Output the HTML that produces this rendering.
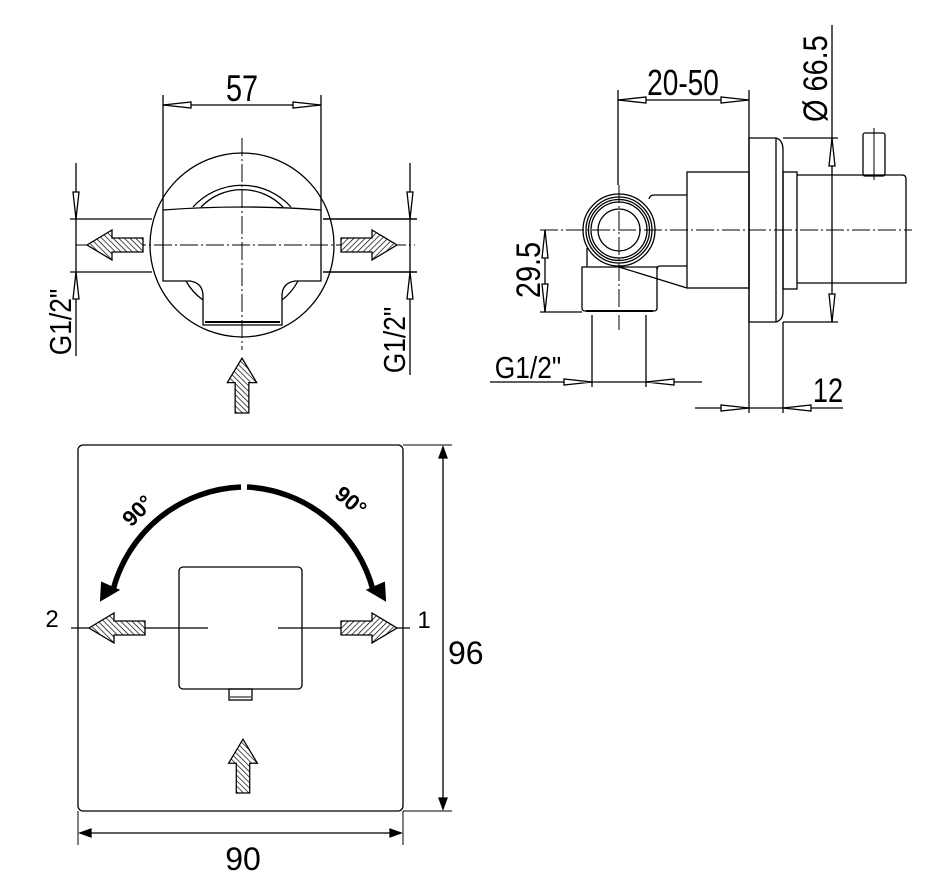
<!DOCTYPE html>
<html><head><meta charset="utf-8"><style>html,body{margin:0;padding:0;background:#fff}svg{display:block}</style></head>
<body>
<svg width="928" height="888" viewBox="0 0 928 888" xmlns="http://www.w3.org/2000/svg" font-family="Liberation Sans, sans-serif">
<defs>
<pattern id="h" width="4" height="4" patternUnits="userSpaceOnUse" patternTransform="rotate(45)">
<rect width="4" height="4" fill="#fff"/><line x1="0" y1="0" x2="0" y2="4" stroke="#000" stroke-width="1.4"/>
</pattern>
<path id="ar" d="M0,-7 H31 V-15 L56,0 L31,15 V7 H0 Z"/>
</defs>
<g fill="none" stroke="#000" stroke-width="1.3">
<!-- ========== TOP LEFT VIEW ========== -->
<circle cx="242" cy="245" r="92"/>
<path d="M193,207 A66,66 0 0 1 291,207"/>
<path d="M201,207 A57,57 0 0 1 283,207"/>
<path d="M186,281 A57,57 0 0 0 203,300"/>
<path d="M298,281 A57,57 0 0 1 282,300"/>
<path d="M163,210 Q242,204 321,210 V281 H295 Q282,283 282,296 V325 H203 V296 Q203,283 190,281 H163 Z" fill="#fff"/>
<path d="M205,322 H280" stroke-width="2"/>
<!-- 57 dim -->
<line x1="163" y1="95" x2="163" y2="210"/>
<line x1="321" y1="95" x2="321" y2="210"/>
<line x1="163" y1="105" x2="321" y2="105"/>
<path d="M163,105 L191,102 V108 Z M321,105 L293,102 V108 Z" fill="#fff"/>
<line x1="70" y1="219" x2="152" y2="219"/><line x1="70" y1="272" x2="152" y2="272"/>
<line x1="323" y1="219" x2="417" y2="219" stroke-width="1.6"/><line x1="323" y1="272" x2="417" y2="272" stroke-width="1.6"/>
<line x1="76" y1="163" x2="76" y2="356"/>
<line x1="410" y1="163" x2="410" y2="375"/>
<path d="M76,219 L73,192 H79 Z M76,272 L73,299 H79 Z M410,219 L407,192 H413 Z M410,272 L407,299 H413 Z" fill="#fff"/>
<line x1="76" y1="245" x2="415" y2="245" stroke-dasharray="18,3,2,3" stroke-width="1"/>
<line x1="242" y1="138" x2="242" y2="350" stroke-dasharray="18,3,2,3" stroke-width="1"/>
<use href="#ar" transform="translate(143,245) scale(-1,1)" fill="url(#h)"/>
<use href="#ar" transform="translate(341,245)" fill="url(#h)"/>
<use href="#ar" transform="translate(242,413) rotate(-90) scale(0.98)" fill="url(#h)"/>

<!-- ========== TOP RIGHT VIEW ========== -->
<path d="M749,138 H776 Q783,140 783,150 V311 Q783,320 776,322 H749 Z"/>
<line x1="776" y1="138" x2="776" y2="322"/>
<rect x="687" y="172" width="62" height="116"/>
<rect x="783" y="172" width="14" height="117"/>
<path d="M797,175 H902 Q906,175 906,179 V283 H797"/>
<rect x="863" y="133" width="22" height="43" rx="2"/>
<line x1="874" y1="128" x2="874" y2="180" stroke-width="1"/>
<path d="M687,195 H654 Q650,195 649,199"/>
<path d="M687,266 H660 Q657,266 657,270"/>
<line x1="619" y1="267" x2="687" y2="288"/>
<path d="M582,267 H657 V308 Q657,311 654,311 H585 Q582,311 582,308 Z"/>
<line x1="586" y1="311" x2="653" y2="311" stroke-width="2"/>
<path d="M587,267 V248"/>
<circle cx="619" cy="230" r="36" fill="#fff"/>
<circle cx="619" cy="230" r="33"/>
<circle cx="619" cy="230" r="30.5"/>
<circle cx="619" cy="230" r="28"/>
<circle cx="619" cy="230" r="21"/>
<line x1="540" y1="230" x2="912" y2="230" stroke-dasharray="18,3,2,3" stroke-width="1"/>
<line x1="619" y1="185" x2="619" y2="330" stroke-dasharray="18,3,2,3" stroke-width="1"/>
<line x1="618" y1="90" x2="618" y2="185"/>
<line x1="749" y1="90" x2="749" y2="413"/>
<line x1="618" y1="100" x2="749" y2="100"/>
<path d="M618,100 L646,97 V103 Z M749,100 L721,97 V103 Z" fill="#fff"/>
<line x1="832" y1="25" x2="832" y2="322"/>
<line x1="783" y1="138" x2="838" y2="138"/><line x1="783" y1="322" x2="838" y2="322"/>
<path d="M832,138 L829,166 H835 Z M832,322 L829,294 H835 Z" fill="#fff"/>
<line x1="545" y1="230" x2="545" y2="312"/>
<line x1="540" y1="312" x2="582" y2="312"/>
<path d="M545,230 L542,258 H548 Z M545,312 L542,284 H548 Z" fill="#fff"/>
<line x1="592" y1="315" x2="592" y2="387"/><line x1="646" y1="315" x2="646" y2="387"/>
<line x1="490" y1="382" x2="702" y2="382"/>
<path d="M592,382 L564,379 V385 Z M646,382 L674,379 V385 Z" fill="#fff"/>
<line x1="783" y1="322" x2="783" y2="413"/>
<line x1="695" y1="408" x2="843" y2="408"/>
<path d="M749,408 L721,405 V411 Z M783,408 L811,405 V411 Z" fill="#fff"/>

<!-- ========== BOTTOM VIEW ========== -->
<rect x="78" y="445" width="325" height="366" rx="5"/>
<rect x="179" y="567" width="123" height="122" rx="4"/>
<rect x="229" y="689" width="23" height="11"/>
<line x1="230" y1="697" x2="251" y2="697" stroke-width="1"/>
<path d="M241,487 A138,138 0 0 0 113,590" stroke-width="5.5"/>
<path d="M247,487 A138,138 0 0 1 373,590" stroke-width="5.5"/>
<path d="M101,600 L102,583 L118,590 Z M385,600 L384,583 L368,590 Z" fill="#000" stroke-width="2"/>
<line x1="71" y1="628" x2="208" y2="628"/>
<line x1="278" y1="628" x2="410" y2="628"/>
<use href="#ar" transform="translate(145,628) scale(-1,1)" fill="url(#h)"/>
<use href="#ar" transform="translate(341,628)" fill="url(#h)"/>
<use href="#ar" transform="translate(243,793) rotate(-90) scale(0.96)" fill="url(#h)"/>
<line x1="403" y1="445" x2="452" y2="445" stroke-width="1"/>
<line x1="403" y1="811" x2="452" y2="811" stroke-width="1"/>
<line x1="443" y1="447" x2="443" y2="809"/>
<path d="M443,447 L439,458 H447 Z M443,809 L439,798 H447 Z" fill="#000"/>
<line x1="78" y1="811" x2="78" y2="845" stroke-width="1"/>
<line x1="403" y1="811" x2="403" y2="845" stroke-width="1"/>
<line x1="80" y1="833" x2="401" y2="833"/>
<path d="M80,833 L91,829 V837 Z M401,833 L390,829 V837 Z" fill="#000"/>
</g>
<g fill="#000" stroke="none">
<text x="242" y="101" font-size="37" text-anchor="middle" transform="translate(242 0) scale(0.78 1) translate(-242 0)">57</text>
<text x="683" y="95" font-size="36" text-anchor="middle" transform="translate(683 0) scale(0.78 1) translate(-683 0)">20-50</text>
<text x="0" y="0" font-size="34" transform="translate(827,122) rotate(-90) scale(0.85 1)">Ø 66.5</text>
<text x="0" y="0" font-size="34" text-anchor="middle" transform="translate(540,270) rotate(-90) scale(0.85 1)">29.5</text>
<text x="0" y="0" font-size="31" text-anchor="middle" transform="translate(71,322) rotate(-90) scale(0.85 1)">G1/2"</text>
<text x="0" y="0" font-size="31" text-anchor="middle" transform="translate(405,340) rotate(-90) scale(0.85 1)">G1/2"</text>
<text x="528" y="378" font-size="31" text-anchor="middle" transform="translate(528 0) scale(0.85 1) translate(-528 0)">G1/2"</text>
<text x="828" y="402" font-size="34" text-anchor="middle" transform="translate(828 0) scale(0.8 1) translate(-828 0)">12</text>
<text x="52" y="627" font-size="24" text-anchor="middle">2</text>
<text x="424" y="628" font-size="24" text-anchor="middle">1</text>
<text x="0" y="0" font-size="22" font-weight="bold" text-anchor="middle" transform="translate(143,516) rotate(-45)">90°</text>
<text x="0" y="0" font-size="22" font-weight="bold" text-anchor="middle" transform="translate(346,507) rotate(40)">90°</text>
<text x="448" y="664" font-size="32">96</text>
<text x="243" y="870" font-size="32" text-anchor="middle">90</text>
</g>
</svg>
</body></html>
